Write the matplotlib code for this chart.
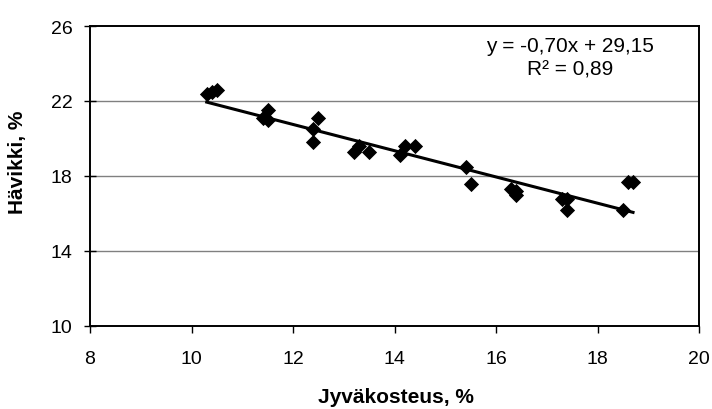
import matplotlib
matplotlib.use("Agg")
import matplotlib.pyplot as plt
import numpy as np

plt.rcParams['font.family'] = ['Liberation Sans', 'DejaVu Sans']

moisture = [10.3, 10.4, 10.5, 11.4, 11.5, 11.5, 12.4, 12.4, 12.5, 13.2, 13.3, 13.5,
            14.1, 14.2, 14.4, 15.4, 15.5, 16.3, 16.4, 16.4, 17.3, 17.4, 17.4, 18.5,
            18.6, 18.7]
loss = [22.4, 22.5, 22.6, 21.1, 21.5, 21.0, 20.5, 19.8, 21.1, 19.3, 19.6, 19.3,
        19.1, 19.6, 19.6, 18.5, 17.6, 17.3, 17.0, 17.2, 16.8, 16.2, 16.8, 16.2,
        17.7, 17.7]
trend_slope = -0.70
trend_intercept = 29.15
xticks = [8, 10, 12, 14, 16, 18, 20]
yticks = [10, 14, 18, 22, 26]

fig = plt.figure(figsize=(7.12, 4.10), dpi=100)
ax = fig.add_axes([90/712, (410-327)/410, (699-90)/712, (327-27)/410])

ax.set_xlim(8, 20)
ax.set_ylim(10, 26)
for yv in yticks[1:-1]:
    ax.axhline(yv, color='#808080', lw=1.0, zorder=1)

ax.scatter(moisture, loss, marker='D', s=60, color='black', zorder=3, linewidths=0)
xs = np.array([min(moisture), max(moisture)])
ax.plot(xs, trend_slope * xs + trend_intercept, color='black', lw=2.2, zorder=2)

ax.set_xticks(xticks)
ax.set_yticks(yticks)
ax.tick_params(axis='y', direction='inout', length=9, width=1, labelsize=14, color='black', pad=8)
ax.tick_params(axis='x', direction='out', length=5, width=1, labelsize=14, color='black', pad=12)
for s in ax.spines.values():
    s.set_linewidth(1.4)
    s.set_color('black')

fig.text(396/712, 1 - 398/410, 'Jyväkosteus, %', fontsize=15, fontweight='bold',
         ha='center', va='center')
fig.text(18/712, 1 - 162/410, 'Hävikki, %', fontsize=15, fontweight='bold',
         ha='center', va='center', rotation=90)

fig.text(570/712, 1 - 47/410, 'y = -0,70x + 29,15', ha='center', va='center', fontsize=15)
fig.text(570/712, 1 - 70/410, 'R² = 0,89', ha='center', va='center', fontsize=15)

fig.savefig('out.png', dpi=100)
